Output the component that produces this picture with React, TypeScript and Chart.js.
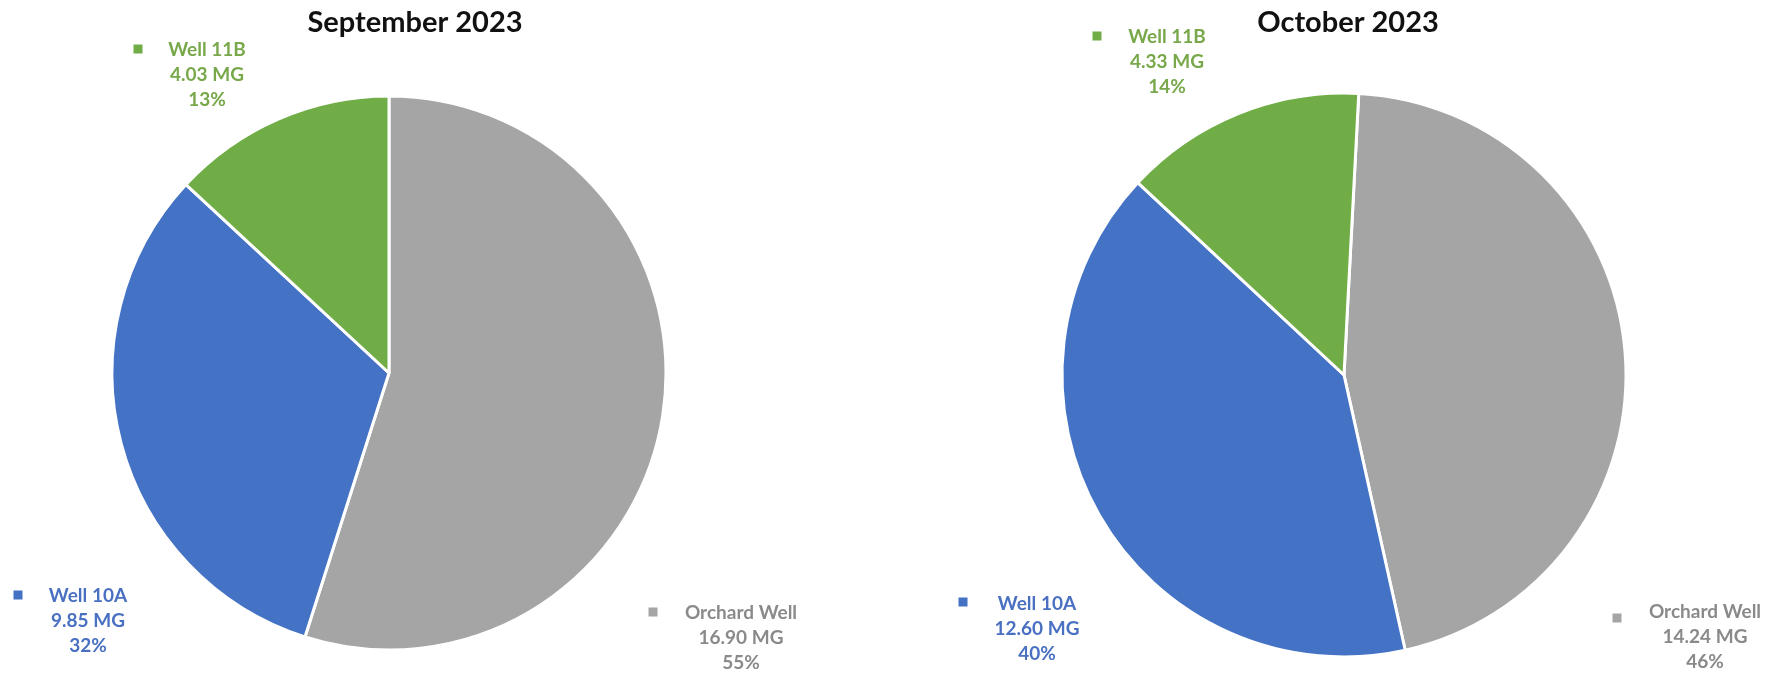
import React, { useEffect, useRef } from "react";
import { Chart, registerables } from "chart.js";

Chart.register(...registerables);

// ---------- data ----------
const categories = ["Orchard Well", "Well 10A", "Well 11B"];
const septemberValues = [16.9, 9.85, 4.03];
const octoberValues = [14.24, 12.6, 4.33];
const chartTitles = ["September 2023", "October 2023"];
const unitLabel = "MG";

// ---------- styles ----------
const sliceColors = ["#A5A5A5", "#4472C4", "#70AD47"];
const labelTextColors = ["#8A8A8A", "#4A70C2", "#78A84A"];
const FONT = "Lato, 'Liberation Sans', Arial, sans-serif";

type LabelPos = { marker: [number, number]; textX: number; y0: number };
type PanelLayout = {
  left: number;
  width: number;
  height: number;
  cx: number;
  cy: number;
  radius: number;
  rotation: number;
  titleX: number;
  titleBaseline: number;
  labels: LabelPos[];
};

const layouts: PanelLayout[] = [
  {
    left: 0,
    width: 891,
    height: 674,
    cx: 389,
    cy: 373,
    radius: 277,
    rotation: 0,
    titleX: 415,
    titleBaseline: 32,
    labels: [
      { marker: [653, 612], textX: 741, y0: 613 },
      { marker: [18, 595], textX: 88, y0: 596 },
      { marker: [138, 49], textX: 207, y0: 50 },
    ],
  },
  {
    left: 891,
    width: 891,
    height: 674,
    cx: 453,
    cy: 375,
    radius: 282,
    rotation: 3,
    titleX: 457,
    titleBaseline: 32,
    labels: [
      { marker: [726, 618], textX: 814, y0: 612 },
      { marker: [72, 602], textX: 146, y0: 604 },
      { marker: [206, 36], textX: 276, y0: 37 },
    ],
  },
];

const LINE_GAP = 25;

function PiePanel({ values, title, layout }: { values: number[]; title: string; layout: PanelLayout }) {
  const ref = useRef<HTMLCanvasElement | null>(null);

  useEffect(() => {
    if (!ref.current) return;
    const total = values.reduce((a, b) => a + b, 0);
    const pad = layout.radius + 6;

    const labelPlugin = {
      id: "panelLabels",
      afterDraw(chart: any) {
        const ctx = chart.ctx as CanvasRenderingContext2D;
        ctx.save();
        // title
        ctx.fillStyle = "#111111";
        ctx.font = `bold 29px ${FONT}`;
        ctx.textAlign = "center";
        ctx.textBaseline = "alphabetic";
        ctx.fillText(title, layout.titleX, layout.titleBaseline);

        // data labels with legend key
        const meta = chart.getDatasetMeta(0);
        meta.data.forEach((_arc: any, i: number) => {
          const pos = layout.labels[i];
          const pct = Math.round((values[i] / total) * 100);
          const lines = [categories[i], `${values[i].toFixed(2)} ${unitLabel}`, `${pct}%`];
          ctx.fillStyle = sliceColors[i];
          ctx.fillRect(pos.marker[0] - 4.5, pos.marker[1] - 4.5, 9, 9);
          ctx.fillStyle = labelTextColors[i];
          ctx.font = `bold 19px ${FONT}`;
          ctx.textAlign = "center";
          ctx.textBaseline = "middle";
          lines.forEach((t, k) => ctx.fillText(t, pos.textX, pos.y0 + k * LINE_GAP));
        });
        ctx.restore();
      },
    };

    const chart = new Chart(ref.current, {
      type: "pie",
      data: {
        labels: categories,
        datasets: [
          {
            data: values,
            backgroundColor: sliceColors,
            borderColor: "#FFFFFF",
            borderWidth: 3,
            hoverOffset: 0,
          },
        ],
      },
      options: {
        responsive: false,
        animation: false,
        radius: layout.radius,
        rotation: layout.rotation,
        layout: {
          padding: {
            left: layout.cx - pad,
            right: layout.width - (layout.cx + pad),
            top: layout.cy - pad,
            bottom: layout.height - (layout.cy + pad),
          },
        },
        plugins: {
          legend: { display: false },
          title: { display: false },
          tooltip: { enabled: false },
        },
      } as any,
      plugins: [labelPlugin],
    });
    return () => chart.destroy();
  }, [values, title, layout]);

  return (
    <canvas
      ref={ref}
      width={layout.width}
      height={layout.height}
      style={{ position: "absolute", left: layout.left, top: 0, width: layout.width, height: layout.height }}
    />
  );
}

export default function App() {
  return (
    <div style={{ position: "absolute", left: 0, top: 0, width: 1782, height: 674, background: "#FFFFFF" }}>
      <PiePanel values={septemberValues} title={chartTitles[0]} layout={layouts[0]} />
      <PiePanel values={octoberValues} title={chartTitles[1]} layout={layouts[1]} />
    </div>
  );
}
